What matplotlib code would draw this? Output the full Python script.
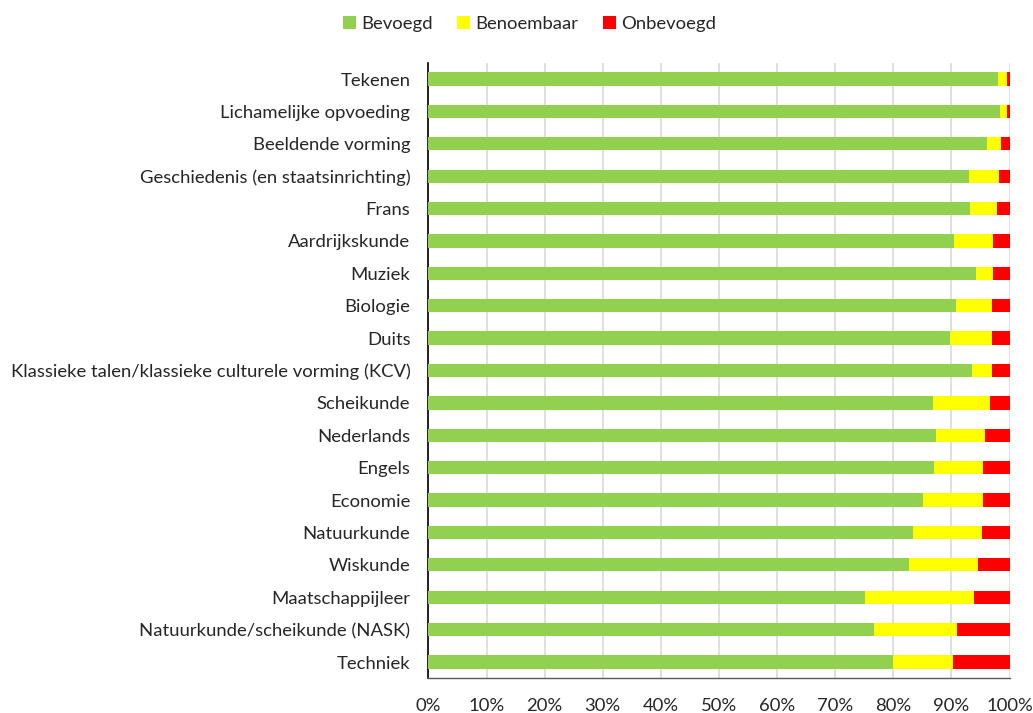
import matplotlib
matplotlib.use("Agg")
import matplotlib.pyplot as plt
from matplotlib.ticker import FuncFormatter, MultipleLocator

plt.rcParams['font.family'] = ['Lato', 'DejaVu Sans']

subjects = [
    "Tekenen",
    "Lichamelijke opvoeding",
    "Beeldende vorming",
    "Geschiedenis (en staatsinrichting)",
    "Frans",
    "Aardrijkskunde",
    "Muziek",
    "Biologie",
    "Duits",
    "Klassieke talen/klassieke culturele vorming (KCV)",
    "Scheikunde",
    "Nederlands",
    "Engels",
    "Economie",
    "Natuurkunde",
    "Wiskunde",
    "Maatschappijleer",
    "Natuurkunde/scheikunde (NASK)",
    "Techniek",
]

bevoegd = [98.0, 98.4, 96.2, 93.0, 93.2, 90.4, 94.2, 90.7, 89.7, 93.5,
           86.8, 87.3, 87.0, 85.1, 83.4, 82.7, 75.1, 76.6, 79.9]
benoembaar = [1.5, 1.1, 2.3, 5.1, 4.6, 6.8, 3.0, 6.3, 7.3, 3.5,
              9.9, 8.5, 8.5, 10.4, 11.9, 11.8, 18.7, 14.4, 10.4]
onbevoegd = [100 - a - b for a, b in zip(bevoegd, benoembaar)]

series = [
    ("Bevoegd", bevoegd, "#92D050"),
    ("Benoembaar", benoembaar, "#FFFF00"),
    ("Onbevoegd", onbevoegd, "#FF0000"),
]

fig = plt.figure(figsize=(10.33, 7.13), dpi=100)
ax = fig.add_axes([0.4148, 0.0488, 0.5625, 0.8631])

ypos = list(range(len(subjects)))
left = [0.0] * len(subjects)
for name, vals, color in series:
    ax.barh(ypos, vals, left=left, height=0.41, color=color, label=name, zorder=3)
    left = [l + v for l, v in zip(left, vals)]

ax.set_ylim(len(subjects) - 0.5, -0.5)
ax.set_xlim(0, 100)
ax.set_yticks(ypos)
ax.set_yticklabels(subjects, fontsize=13.3, color="#262626")
ax.xaxis.set_major_locator(MultipleLocator(10))
ax.xaxis.set_major_formatter(FuncFormatter(lambda v, p: f"{int(round(v))}%"))
ax.tick_params(axis="x", labelsize=13.3, labelcolor="#262626", length=0, pad=14)
ax.tick_params(axis="y", length=0, pad=13)

ax.grid(axis="x", color="#D9D9D9", linewidth=1.2, zorder=0)
for s in ("top", "right"):
    ax.spines[s].set_visible(False)
ax.spines["left"].set_color("black")
ax.spines["left"].set_linewidth(1.2)
ax.spines["bottom"].set_color("#595959")
ax.spines["bottom"].set_linewidth(1.0)

fig.legend(loc="center", bbox_to_anchor=(0.5126, 0.967), ncol=3, frameon=False,
           fontsize=13.3, handlelength=0.7, handleheight=0.7,
           handletextpad=0.3, columnspacing=1.3, labelcolor="#262626")

fig.savefig("out.png", dpi=100)
